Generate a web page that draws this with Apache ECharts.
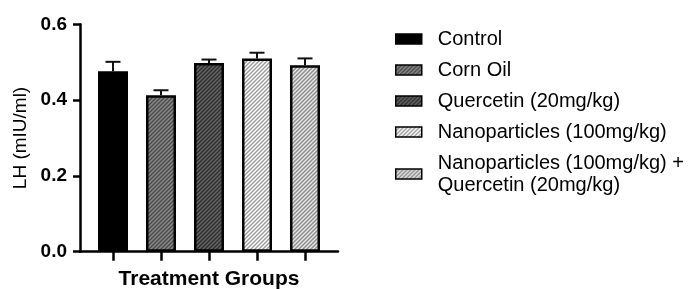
<!DOCTYPE html>
<html>
<head>
<meta charset="utf-8">
<script src="https://cdn.jsdelivr.net/npm/echarts@6/dist/echarts.min.js"></script>
<style>html,body{margin:0;padding:0;background:#fff}#c{width:695px;height:289px}</style>
</head>
<body>
<div id="c"></div>
<script>
const categories = ['Control', 'Corn Oil', 'Quercetin (20mg/kg)', 'Nanoparticles (100mg/kg)', 'Nanoparticles (100mg/kg) +\nQuercetin (20mg/kg)'];
const means = [0.476, 0.413, 0.498, 0.510, 0.492];
const sems = [0.025, 0.013, 0.009, 0.015, 0.018];
const yMin = 0, yMax = 0.6, yStep = 0.2;
const yTitle = 'LH (mIU/ml)';
const xTitle = 'Treatment Groups';

function stripes(bg, fg) {
  if (!bg) return '#000';
  const s = 4;
  const c = document.createElement('canvas');
  c.width = s; c.height = s;
  const g = c.getContext('2d');
  g.fillStyle = bg; g.fillRect(0, 0, s, s);
  g.strokeStyle = fg; g.lineWidth = 1.4;
  g.beginPath();
  g.moveTo(-1, s + 1); g.lineTo(s + 1, -1);
  g.moveTo(-1, 1); g.lineTo(1, -1);
  g.moveTo(s - 1, s + 1); g.lineTo(s + 1, s - 1);
  g.stroke();
  return { image: c, repeat: 'repeat' };
}
const fills = [
  stripes(null),
  stripes('#4a4a4a', '#8a8a8a'),
  stripes('#2e2e2e', '#666666'),
  stripes('#ffffff', '#9a9a9a'),
  stripes('#e6e6e6', '#8c8c8c')
];

const font = '"Liberation Sans", Arial, sans-serif';
const chart = echarts.init(document.getElementById('c'), null, { renderer: 'canvas' });

const barSeries = categories.map((name, i) => ({
  name: name,
  type: 'bar',
  xAxisIndex: 1, yAxisIndex: 1,
  stack: 'g',
  barWidth: 30,
  data: categories.map((_, j) => j === i ? means[j] : '-'),
  itemStyle: { color: fills[i], borderColor: '#000', borderWidth: 2.5 },
  emphasis: { disabled: true },
  z: 3
}));

const errSeries = {
  type: 'custom',
  xAxisIndex: 1, yAxisIndex: 1,
  data: means.map((m, i) => [i, m, sems[i]]),
  renderItem: function (params, api) {
    const i = api.value(0), m = api.value(1), e = api.value(2);
    const p0 = api.coord([i, m]);
    const p1 = api.coord([i, m + e]);
    const hw = 7.5;
    return {
      type: 'group',
      children: [
        { type: 'line', shape: { x1: p0[0], y1: p0[1], x2: p1[0], y2: p1[1] }, style: { stroke: '#111', lineWidth: 2 } },
        { type: 'line', shape: { x1: p1[0] - hw, y1: p1[1], x2: p1[0] + hw, y2: p1[1] }, style: { stroke: '#111', lineWidth: 2 } }
      ]
    };
  },
  z: 2
};

chart.setOption({
  animation: false,
  textStyle: { fontFamily: font },
  grid: [
    { left: 80, top: 24.3, width: 258, height: 227.4, outerBoundsMode: 'none', containLabel: false },
    { left: 89, top: 24.3, width: 240, height: 227.4, outerBoundsMode: 'none', containLabel: false }
  ],
  xAxis: [
    { type: 'category', gridIndex: 0, data: categories, axisLine: { lineStyle: { color: '#000', width: 2.5 } }, axisTick: { show: false }, axisLabel: { show: false },
      name: xTitle, nameLocation: 'middle', nameGap: 17, nameTextStyle: { fontFamily: font, fontWeight: 'bold', fontSize: 21, color: '#000' } },
    { type: 'category', gridIndex: 1, data: categories, axisLine: { show: false },
      axisTick: { show: true, alignWithLabel: true, interval: 0, length: 9, lineStyle: { color: '#000', width: 2.5 } },
      axisLabel: { show: false, interval: 0 } }
  ],
  yAxis: [
    { type: 'value', gridIndex: 0, min: yMin, max: yMax, interval: yStep,
      axisLine: { show: true, lineStyle: { color: '#000', width: 2.5 } },
      axisTick: { show: true, length: 7, lineStyle: { color: '#000', width: 2.5 } },
      splitLine: { show: false },
      axisLabel: { formatter: v => v.toFixed(1), fontFamily: font, fontWeight: 'bold', fontSize: 19, color: '#000', margin: 13 },
      name: yTitle, nameLocation: 'middle', nameGap: 50, nameRotate: 90,
      nameTextStyle: { fontFamily: font, fontSize: 19, color: '#000' } },
    { type: 'value', gridIndex: 1, min: yMin, max: yMax, interval: yStep, show: false }
  ],
  legend: {
    orient: 'vertical', left: 390, top: 23,
    icon: 'rect',
    itemWidth: 26, itemHeight: 10, itemGap: 9,
    data: categories,
    itemStyle: { borderColor: '#000', borderWidth: 1.5 },
    textStyle: { fontFamily: font, fontSize: 20, color: '#000', lineHeight: 22, padding: [0, 0, 0, 11] },
    selectedMode: false
  },
  series: barSeries.concat([errSeries])
});
</script>
</body>
</html>
